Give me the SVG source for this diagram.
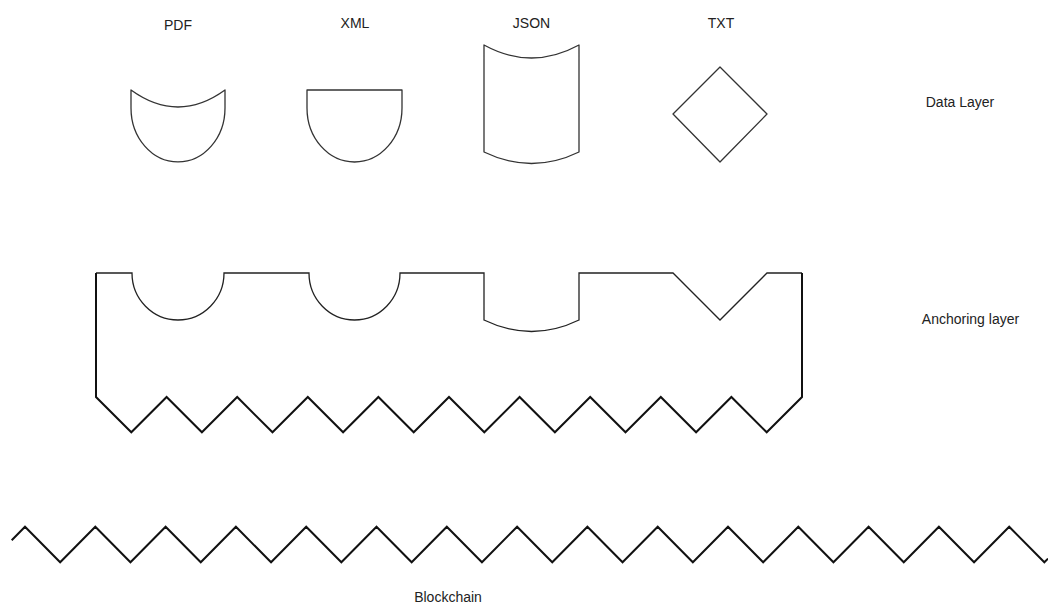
<svg xmlns="http://www.w3.org/2000/svg" width="1048" height="605" viewBox="0 0 1048 605">
<style>
.lbl{font-family:"Liberation Sans",Arial,sans-serif;font-size:14px;fill:#222;text-anchor:middle}
.doc{fill:#fff;stroke:#333;stroke-width:1.3;stroke-linejoin:round}
.thin{fill:none;stroke:#222;stroke-width:1.3}
.thick{fill:none;stroke:#111;stroke-width:2;stroke-linejoin:miter}
</style>
<rect width="1048" height="605" fill="#fff"/>
<g id="pdf">
<path class="doc" d="M131,90 Q178,124 225,90 V108 A47,54 0 0 1 131,108 Z"/>
<text class="lbl" x="178" y="30">PDF</text>
</g>
<g id="xml">
<path class="doc" d="M307,90 H402 V108 A47.5,54 0 0 1 307,108 Z"/>
<text class="lbl" x="355" y="28">XML</text>
</g>
<g id="json">
<path class="doc" d="M484,45 Q531.5,71 579,45 V152 Q531.5,175 484,152 Z"/>
<text class="lbl" x="531.5" y="28">JSON</text>
</g>
<g id="txt">
<path class="doc" d="M720,67 L767,114 L720,162 L673,114 Z"/>
<text class="lbl" x="721" y="28">TXT</text>
</g>
<g id="data-layer">
<text class="lbl" x="960" y="107">Data Layer</text>
</g>
<g id="anchoring-layer">
<path class="thin" d="M96,273 H132 A46,47 0 0 0 224,273 H309 A45.5,47 0 0 0 400,273 H484 V320 Q531.5,343 579,320 V273 H673 L720,320 L767,273 H802"/>
<path class="thick" d="M96,273 V397 L131.3,432.3 L166.6,397 L201.9,432.3 L237.2,397 L272.5,432.3 L307.8,397 L343.1,432.3 L378.4,397 L413.7,432.3 L449,397 L484.3,432.3 L519.6,397 L554.9,432.3 L590.2,397 L625.5,432.3 L660.8,397 L696.1,432.3 L731.4,397 L766.7,432.3 L802,397 V273"/>
<text class="lbl" x="970.5" y="323.5">Anchoring layer</text>
</g>
<g id="blockchain">
<polyline class="thick" points="11.7,540.3 25,526.7 60.15,562.3 95.3,526.7 130.45,562.3 165.6,526.7 200.75,562.3 235.9,526.7 271.05,562.3 306.2,526.7 341.35,562.3 376.5,526.7 411.65,562.3 446.8,526.7 481.95,562.3 517.1,526.7 552.25,562.3 587.4,526.7 622.55,562.3 657.7,526.7 692.85,562.3 728,526.7 763.15,562.3 798.3,526.7 833.45,562.3 868.6,526.7 903.75,562.3 938.9,526.7 974.05,562.3 1009.2,526.7 1044.35,562.3 1048,558.6"/>
<text class="lbl" x="448" y="602">Blockchain</text>
</g>
<g id="connectors"></g>
</svg>
